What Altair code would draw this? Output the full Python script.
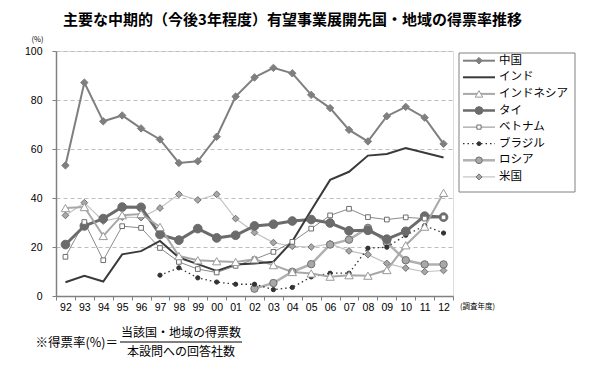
import altair as alt
import pandas as pd

years = ["92", "93", "94", "95", "96", "97", "98", "99", "00", "01", "02",
         "03", "04", "05", "06", "07", "08", "09", "10", "11", "12"]
series_names = ["中国", "インド", "インドネシア", "タイ", "ベトナム", "ブラジル", "ロシア", "米国"]

china = [53.3, 87.1, 71.3, 73.7, 68.4, 63.9, 54.3, 55.0, 65.0, 81.4, 89.2,
         93.1, 90.9, 82.1, 76.7, 67.8, 63.1, 73.4, 77.2, 72.8, 62.1]
india = [5.6, 8.2, 5.9, 17.0, 18.3, 22.5, 15.7, 13.0, 10.2, 12.9, 13.3,
         14.0, 22.3, 35.0, 47.4, 50.7, 57.3, 58.0, 60.4, 58.5, 56.5]
indonesia = [35.9, 36.3, 24.5, 33.0, 33.5, 28.2, 16.3, 14.6, 14.2, 13.9, 15.0,
             12.6, 9.8, 9.2, 7.9, 8.5, 8.3, 10.6, 20.7, 28.3, 42.1]
thai = [21.0, 28.6, 31.6, 36.3, 36.2, 25.1, 22.8, 27.5, 23.7, 24.8, 28.6,
        29.3, 30.6, 31.2, 29.8, 26.6, 26.8, 23.2, 26.4, 32.6, 32.2]
vietnam = [16.0, 30.2, 14.6, 28.5, 27.8, 19.6, 13.9, 11.0, 9.6, 12.3, 15.0,
           18.0, 22.1, 27.5, 32.9, 35.6, 32.2, 31.2, 32.1, 31.6, 32.1]
brazil = [None, None, None, None, None, 8.5, 11.5, 7.4, 5.7, 4.8, 4.8,
          2.6, 3.5, 7.8, 9.3, 9.3, 19.5, 19.9, 24.8, 28.7, 25.7]
russia = [None, None, None, None, None, None, None, None, None, None, 3.0,
          5.3, 9.9, 13.0, 21.0, 23.0, 27.8, 21.8, 14.6, 12.9, 12.9]
usa = [32.9, 38.1, 30.6, 32.2, 32.0, 35.9, 41.5, 39.2, 41.5, 31.6, 25.9,
       21.8, 20.3, 20.0, 21.3, 18.4, 16.9, 13.3, 11.4, 9.9, 10.4]

series_values = {"中国": china, "インド": india, "インドネシア": indonesia, "タイ": thai,
                 "ベトナム": vietnam, "ブラジル": brazil, "ロシア": russia, "米国": usa}

styles = {
    "中国": dict(color="#7f7f7f", width=2, dash=None, shape="diamond", size=55, fill="#7f7f7f", stroke="#7f7f7f"),
    "インド": dict(color="#3a3a3a", width=2, dash=None, shape=None),
    "インドネシア": dict(color="#a8a8a8", width=2, dash=None, shape="triangle-up", size=70, fill="#ffffff", stroke="#9a9a9a"),
    "タイ": dict(color="#6b6b6b", width=3, dash=None, shape="circle", size=75, fill="#6b6b6b", stroke="#6b6b6b"),
    "ベトナム": dict(color="#8a8a8a", width=1, dash=None, shape="square", size=22, fill="#ffffff", stroke="#6e6e6e"),
    "ブラジル": dict(color="#333333", width=1.3, dash=[1.5, 3], shape="circle", size=18, fill="#333333", stroke="#333333"),
    "ロシア": dict(color="#b0b0b0", width=2.5, dash=None, shape="circle", size=55, fill="#a8a8a8", stroke="#707070"),
    "米国": dict(color="#c2c2c2", width=1.2, dash=None, shape="diamond", size=45, fill="#a8a8a8", stroke="#707070"),
}

JP = "Noto Sans CJK JP"
NUM = "Liberation Sans"

x_enc = alt.X("year:O", sort=years,
              scale=alt.Scale(type="band", domain=years, paddingInner=0, paddingOuter=0),
              axis=alt.Axis(title=None, labelAngle=0, labelFont=NUM, labelFontSize=10.5, labelColor="#000000",
                            labelPadding=2, tickSize=4, tickColor="#808080", tickBand="extent",
                            domainColor="#808080", domainWidth=1.5, grid=False))
y_axis = alt.Axis(values=[0, 20, 40, 60, 80, 100], title="(%)", titleAngle=0, titleX=-19, titleY=-12,
                  titleFont=JP, titleFontSize=7.5, titleFontWeight="normal", titleAlign="center",
                  titleBaseline="middle", titleColor="#000000",
                  labelFont=NUM, labelFontSize=10.5, labelColor="#000000", labelPadding=10,
                  tickSize=4, tickColor="#808080", domainColor="#808080", domainWidth=1.5,
                  grid=True, gridDash=[4, 3], gridColor="#bdbdbd", gridWidth=1)
y_enc = alt.Y("value:Q", scale=alt.Scale(domain=[0, 100], nice=False), axis=y_axis)

draw_line_order = ["米国", "ロシア", "ブラジル", "ベトナム", "タイ", "インドネシア", "インド", "中国"]
draw_point_order = ["米国", "ロシア", "ブラジル", "タイ", "ベトナム", "インドネシア", "中国"]

def frame_for(name):
    df = pd.DataFrame({"year": years, "value": series_values[name]})
    return df.dropna()

data_layers = []
for name in draw_line_order:
    st = styles[name]
    kw = dict(color=st["color"], strokeWidth=st["width"])
    if st["dash"]:
        kw["strokeDash"] = st["dash"]
    data_layers.append(
        alt.Chart(frame_for(name)).mark_line(**kw).encode(x=x_enc, y=y_enc)
    )
for name in draw_point_order:
    st = styles[name]
    data_layers.append(
        alt.Chart(frame_for(name)).mark_point(shape=st["shape"], size=st["size"], filled=True,
                                              fill=st["fill"], stroke=st["stroke"], strokeWidth=1,
                                              opacity=1).encode(x=x_enc, y=y_enc)
    )

# annotations
data_layers.append(
    alt.Chart(pd.DataFrame({"t": ["(調査年度)"]})).mark_text(font=JP, fontSize=7.5, align="left",
                                                          baseline="middle", color="#000000").encode(
        text="t:N", x=alt.value(404), y=alt.value(256))
)
data_layers.append(
    alt.Chart(pd.DataFrame({"t": ["※得票率(%)＝"]})).mark_text(font=JP, fontSize=12.5, align="right",
                                                             baseline="middle", color="#000000").encode(
        text="t:N", x=alt.value(62), y=alt.value(291.5))
)
data_layers.append(
    alt.Chart(pd.DataFrame({"t": ["当該国・地域の得票数"]})).mark_text(font=JP, fontSize=12, align="center",
                                                               baseline="middle", color="#000000").encode(
        text="t:N", x=alt.value(125), y=alt.value(281.5))
)
data_layers.append(
    alt.Chart(pd.DataFrame({"t": ["本設問への回答社数"]})).mark_text(font=JP, fontSize=12, align="center",
                                                              baseline="middle", color="#000000").encode(
        text="t:N", x=alt.value(125), y=alt.value(301))
)
data_layers.append(
    alt.Chart(pd.DataFrame({"t": ["line"]})).mark_rule(color="#000000", strokeWidth=1).encode(
        x=alt.value(64), x2=alt.value(186), y=alt.value(291))
)

# legend built from the series list
legend_scale = alt.Scale(type="point", domain=series_names, range=[9.7, 125.9], padding=0)
legend_layers = [
    alt.Chart(pd.DataFrame({"t": ["box"]})).mark_rect(fill="#ffffff", stroke="#808080", strokeWidth=1).encode(
        x=alt.value(403), x2=alt.value(519), y=alt.value(2), y2=alt.value(141))
]
for name in series_names:
    st = styles[name]
    kw = dict(color=st["color"], strokeWidth=min(st["width"], 2.5))
    if st["dash"]:
        kw["strokeDash"] = st["dash"]
    ldf = pd.DataFrame({"series": [name]})
    legend_layers.append(
        alt.Chart(ldf).mark_rule(**kw).encode(
            x=alt.value(407), x2=alt.value(439),
            y=alt.Y("series:N", scale=legend_scale, axis=None))
    )
    if st["shape"]:
        legend_layers.append(
            alt.Chart(ldf).mark_point(shape=st["shape"], size=st["size"] * 0.8, filled=True,
                                      fill=st["fill"], stroke=st["stroke"], strokeWidth=1, opacity=1).encode(
                x=alt.value(423),
                y=alt.Y("series:N", scale=legend_scale, axis=None))
        )
legend_layers.append(
    alt.Chart(pd.DataFrame({"series": series_names})).mark_text(font=JP, fontSize=11.5, align="left",
                                                                 baseline="middle", color="#000000").encode(
        text="series:N", x=alt.value(443),
        y=alt.Y("series:N", scale=legend_scale, axis=None))
)

chart = alt.layer(
    alt.layer(*data_layers),
    alt.layer(*legend_layers),
).resolve_scale(y="independent").properties(
    width=397, height=245,
    autosize=alt.AutoSizeParams(type="none"),
    padding={"left": 48, "top": 43, "right": 128, "bottom": 62},
    title=alt.TitleParams("主要な中期的（今後3年程度）有望事業展開先国・地域の得票率推移",
                          font=JP, fontSize=15, fontWeight="bold", anchor="middle", frame="group",
                          dx=38, color="#000000", offset=7.5),
).configure_view(strokeWidth=0).configure(background="#ffffff")

chart.save("out.html", embed_options={"renderer": "svg", "actions": False})
